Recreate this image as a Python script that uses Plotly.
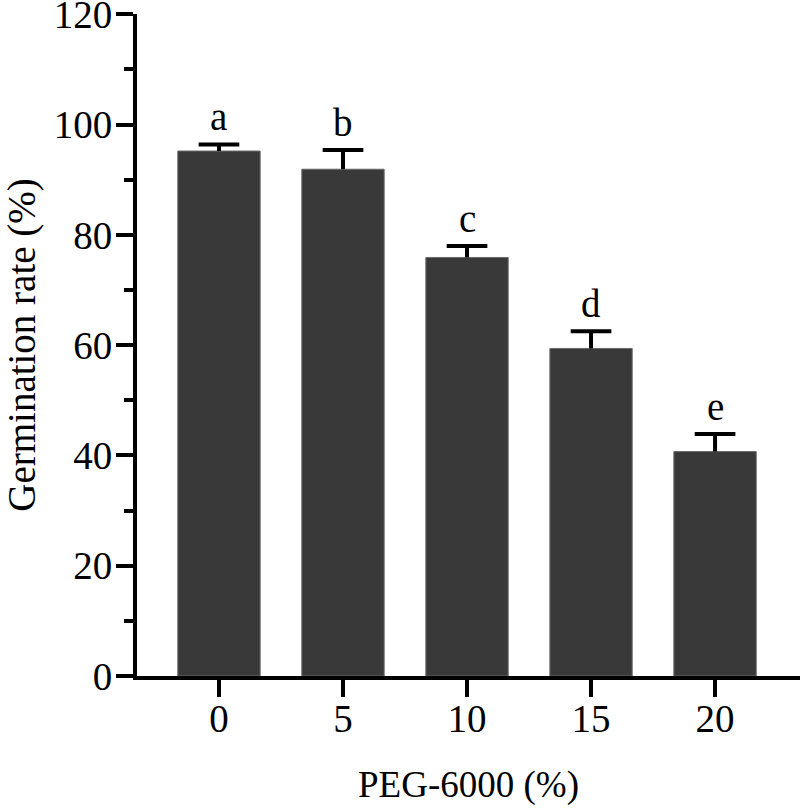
import plotly.graph_objects as go

categories = ["0", "5", "10", "15", "20"]
germination = [95.2, 91.9, 75.9, 59.4, 40.7]
errors = [1.2, 3.5, 2.1, 3.1, 3.2]
letters = ["a", "b", "c", "d", "e"]

FONT = "Liberation Serif, Times New Roman, serif"
CAP_HALF = 0.164  # half cap width in category units
idx = list(range(len(categories)))

fig = go.Figure()
fig.add_trace(go.Bar(
    x=idx, y=germination,
    width=0.664,
    marker=dict(color="#393939", line=dict(color="#6a6a6a", width=1)),
))

# upward-only error bars (stem + cap)
ex, ey = [], []
for i, v, e in zip(idx, germination, errors):
    ex += [i, i, None, i - CAP_HALF, i + CAP_HALF, None]
    ey += [v, v + e, None, v + e, v + e, None]
fig.add_trace(go.Scatter(x=ex, y=ey, mode="lines",
                         line=dict(color="black", width=4),
                         hoverinfo="skip", cliponaxis=False))

for i, v, e, t in zip(idx, germination, errors, letters):
    fig.add_annotation(x=i, y=v + e, text=t, showarrow=False,
                       yanchor="bottom", yshift=4,
                       font=dict(family=FONT, size=39, color="black"))

fig.update_layout(
    width=800, height=809,
    margin=dict(l=137, r=0, t=14, b=133, autoexpand=False),
    plot_bgcolor="white", paper_bgcolor="white",
    showlegend=False,
    font=dict(family=FONT, size=39, color="black"),
)
fig.update_xaxes(
    range=[-0.661, 4.685],
    tickvals=idx, ticktext=categories,
    showline=True, linecolor="black", linewidth=4,
    ticks="outside", ticklen=17, tickwidth=4, tickcolor="black",
    tickfont=dict(family=FONT, size=39),
    ticklabelstandoff=-12,
    title=dict(text="PEG-6000 (%)", font=dict(family=FONT, size=37), standoff=33),
    showgrid=False, zeroline=False, automargin=False,
)
fig.update_yaxes(
    range=[0, 120.05], tickvals=[0, 20, 40, 60, 80, 100, 120],
    showline=True, linecolor="black", linewidth=4,
    ticks="outside", ticklen=17, tickwidth=4, tickcolor="black",
    minor=dict(tickvals=[10, 30, 50, 70, 90, 110], ticks="outside", ticklen=9,
               tickwidth=4, tickcolor="black"),
    tickfont=dict(family=FONT, size=39),
    ticklabelstandoff=-4,
    ticklabeloverflow="allow",
    title=dict(text="Germination rate (%)", font=dict(family=FONT, size=39), standoff=14),
    showgrid=False, zeroline=False, automargin=False,
)

fig.write_html("out.html", config={"displayModeBar": False},
               post_script="document.body.style.margin='0';")
